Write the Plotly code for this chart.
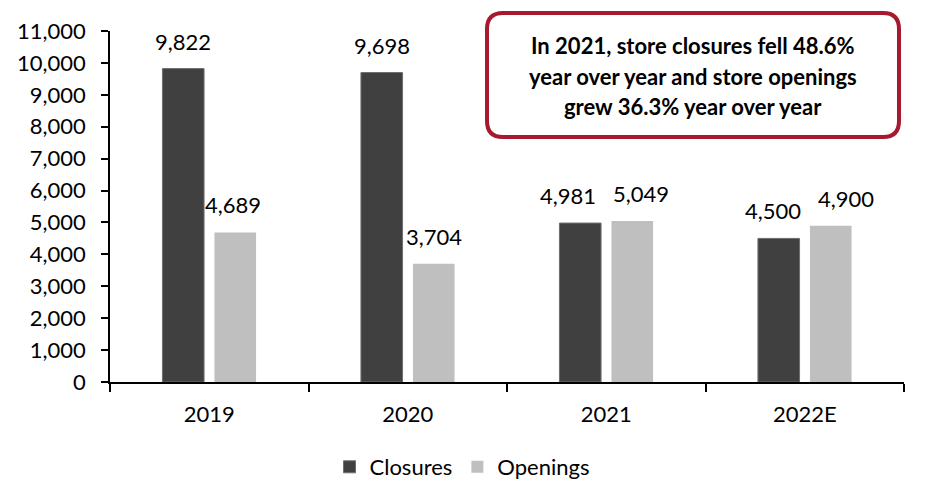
import plotly.graph_objects as go

categories = ["2019", "2020", "2021", "2022E"]
closures = [9822, 9698, 4981, 4500]
openings = [4689, 3704, 5049, 4900]
y_ticks = list(range(0, 11001, 1000))
callout_lines = [
    "In 2021, store closures fell 48.6%",
    "year over year and store openings",
    "grew 36.3% year over year",
]

W, H = 935, 503
L, R, T, B = 110, 31, 31, 121
PW, PH = W - L - R, H - T - B

FONT = "Lato"
DARK = "#404040"
LIGHT = "#bfbfbf"
RED = "#a6192e"
FS = 22

# small horizontal nudges of value labels (pixels), to keep neighbours apart
closure_nudge = [0, 0, -12, -6]
opening_nudge = [-2, 0, 9, 15]

def px(xp):
    return (xp - L) / PW

def py(yp):
    return (H - B - yp) / PH

fig = go.Figure()
fig.add_trace(go.Bar(name="Closures", x=categories, y=closures,
                     marker=dict(color=DARK, line=dict(width=1, color="#6e6e6e"))))
fig.add_trace(go.Bar(name="Openings", x=categories, y=openings,
                     marker=dict(color=LIGHT, line=dict(width=0))))

annotations = []
for series, shift, nudge in ((closures, -26, closure_nudge), (openings, 26, opening_nudge)):
    for i, v in enumerate(series):
        annotations.append(dict(
            x=i, y=v, xref="x", yref="y", text=f"{v:,}", showarrow=False,
            xshift=shift + nudge[i], yanchor="bottom", yshift=12,
            font=dict(family=FONT, size=FS, color="#000000")))

# callout box (rounded rectangle)
x0, x1, y0, y1, r = 487, 899, 13, 137, 16
def P(xx, yy):
    return f"{px(xx):.5f},{py(yy):.5f}"
path = (f"M {P(x0 + r, y0)} L {P(x1 - r, y0)} Q {P(x1, y0)} {P(x1, y0 + r)} "
        f"L {P(x1, y1 - r)} Q {P(x1, y1)} {P(x1 - r, y1)} "
        f"L {P(x0 + r, y1)} Q {P(x0, y1)} {P(x0, y1 - r)} "
        f"L {P(x0, y0 + r)} Q {P(x0, y0)} {P(x0 + r, y0)} Z")
shapes = [dict(type="path", xref="paper", yref="paper", path=path,
               line=dict(color=RED, width=4), fillcolor="white", layer="above")]

for i, line in enumerate(callout_lines):
    annotations.append(dict(
        x=px((x0 + x1) / 2), y=py(46 + 30 * i), xref="paper", yref="paper",
        text=f"<b>{line}</b>", showarrow=False, xanchor="center", yanchor="middle",
        font=dict(family=FONT, size=22, color="#000000")))

fig.update_layout(
    width=W, height=H,
    margin=dict(l=L, r=R, t=T, b=B, pad=0),
    paper_bgcolor="white", plot_bgcolor="white",
    barmode="group", bargap=0.476, bargroupgap=0.2,
    font=dict(family=FONT, size=FS, color="#000000"),
    showlegend=True,
    legend=dict(orientation="h", x=px(462), y=py(467), xanchor="center",
                yanchor="middle", font=dict(family=FONT, size=FS),
                itemwidth=30, tracegroupgap=0),
    annotations=annotations,
    shapes=shapes,
)
fig.update_xaxes(
    type="category",
    showline=True, linecolor="#000000", linewidth=1.5,
    ticks="outside", tickson="boundaries", ticklen=8, tickcolor="#000000", tickwidth=1.5,
    tickfont=dict(family=FONT, size=FS), showgrid=False, zeroline=False,
    tickangle=0, ticklabelstandoff=12,
)
fig.update_yaxes(
    range=[0, 11000], tickvals=y_ticks, tickformat=",d",
    showline=True, linecolor="#000000", linewidth=1.5,
    ticks="outside", ticklen=7, tickcolor="#000000", tickwidth=1.5,
    tickfont=dict(family=FONT, size=FS), showgrid=False, zeroline=False,
    ticklabelstandoff=11,
)

fig.write_html("out.html")
